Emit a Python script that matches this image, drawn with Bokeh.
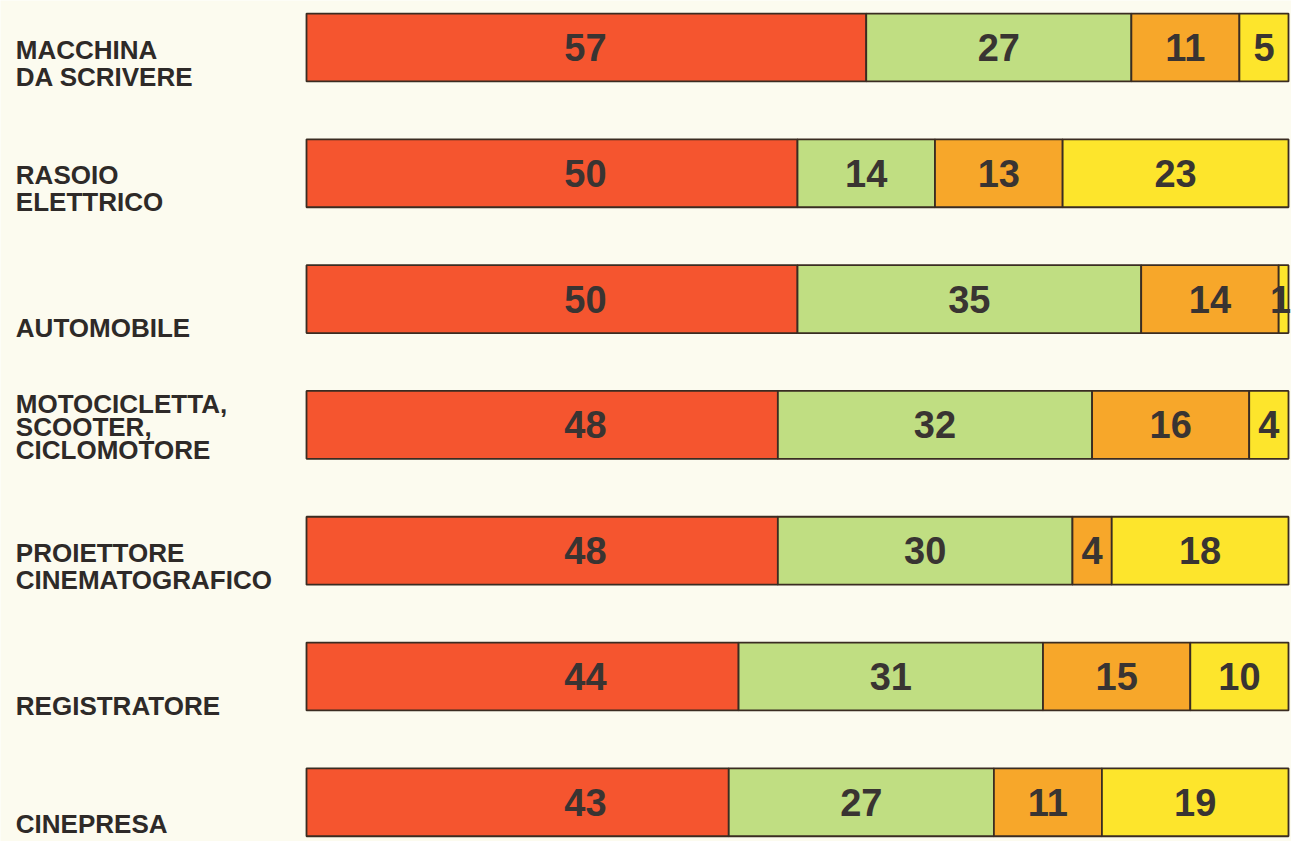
from bokeh.plotting import figure
from bokeh.models import ColumnDataSource, Range1d
from bokeh.core.properties import value
from bokeh.embed import file_html
from bokeh.resources import INLINE

# Categories (top to bottom), each label split over its printed lines
categories = [
    "MACCHINA\nDA  SCRIVERE",
    "RASOIO\nELETTRICO",
    "AUTOMOBILE",
    "MOTOCICLETTA,\nSCOOTER,\nCICLOMOTORE",
    "PROIETTORE\nCINEMATOGRAFICO",
    "REGISTRATORE",
    "CINEPRESA",
]

# Percentage shares of the four segments of each bar
seg_red = [57, 50, 50, 48, 48, 44, 43]
seg_green = [27, 14, 35, 32, 30, 31, 27]
seg_orange = [11, 13, 14, 16, 4, 15, 11]
seg_yellow = [5, 23, 1, 4, 18, 10, 19]

segments = [seg_red, seg_green, seg_orange, seg_yellow]
colors = ["#F5552F", "#C0DE82", "#F7A72A", "#FDE52C"]

BG = "#FCFBEF"
INK = "#2E2A28"
NUM_INK = "#393432"
EDGE = "#3A2C22"

W, H = 1291, 841
BAR_LEFT_PX, PX_PER_UNIT_X = 306, 9.82
FIRST_CENTER_PX, ROW_PX = 47, 125.8
BAR_HEIGHT = 0.54
RED_LABEL_X = 28.4        # red-segment numbers sit at a common position
MAX_LABEL_X = 99.2        # keep the rightmost numbers inside the canvas
LABEL_X = -29.6

n = len(categories)
rows = list(range(n))

p = figure(
    width=W, height=H,
    x_range=Range1d(-BAR_LEFT_PX / PX_PER_UNIT_X, (W - BAR_LEFT_PX) / PX_PER_UNIT_X),
    y_range=Range1d((H - FIRST_CENTER_PX) / ROW_PX, -FIRST_CENTER_PX / ROW_PX),
    toolbar_location=None, output_backend="svg", min_border=0,
)
p.background_fill_color = BG
p.border_fill_color = BG
p.outline_line_color = None
p.xaxis.visible = False
p.yaxis.visible = False
p.xgrid.grid_line_color = None
p.ygrid.grid_line_color = None

# Stacked segments
cum = [0] * n
for k, (vals, col) in enumerate(zip(segments, colors)):
    left = cum[:]
    right = [a + b for a, b in zip(cum, vals)]
    if k == 0:
        num_x = [RED_LABEL_X] * n
    else:
        num_x = [min((a + b) / 2, MAX_LABEL_X) for a, b in zip(left, right)]
    src = ColumnDataSource(dict(
        y=rows, left=left, right=right, val=[str(v) for v in vals], lx=num_x,
    ))
    p.hbar(y="y", left="left", right="right", height=BAR_HEIGHT, source=src,
           fill_color=col, line_color=EDGE, line_width=1.8)
    p.text(x="lx", y="y", text="val", source=src,
           text_font=value("Liberation Sans"), text_font_style="bold",
           text_font_size="38px", text_color=NUM_INK,
           text_align="center", text_baseline="middle")
    cum = right

# Category labels, last line level with the bar's lower edge
lx, ly, lt = [], [], []
for i, cat in enumerate(categories):
    lines = cat.split("\n")
    m = len(lines)
    lh = 23 if m == 3 else 27
    last = 25 if m == 3 else 29
    if i == n - 1:
        last = 22          # bottom row sits close to the canvas edge
    for j, line in enumerate(lines):
        off_px = last - (m - 1 - j) * lh
        lx.append(LABEL_X)
        ly.append(i + off_px / ROW_PX)
        lt.append(line)

p.text(x=lx, y=ly, text=lt,
       text_font=value("Liberation Sans"), text_font_style="bold",
       text_font_size="26px", text_color=INK,
       text_align="left", text_baseline="middle")

open("out.html", "w").write(file_html(p, INLINE))
